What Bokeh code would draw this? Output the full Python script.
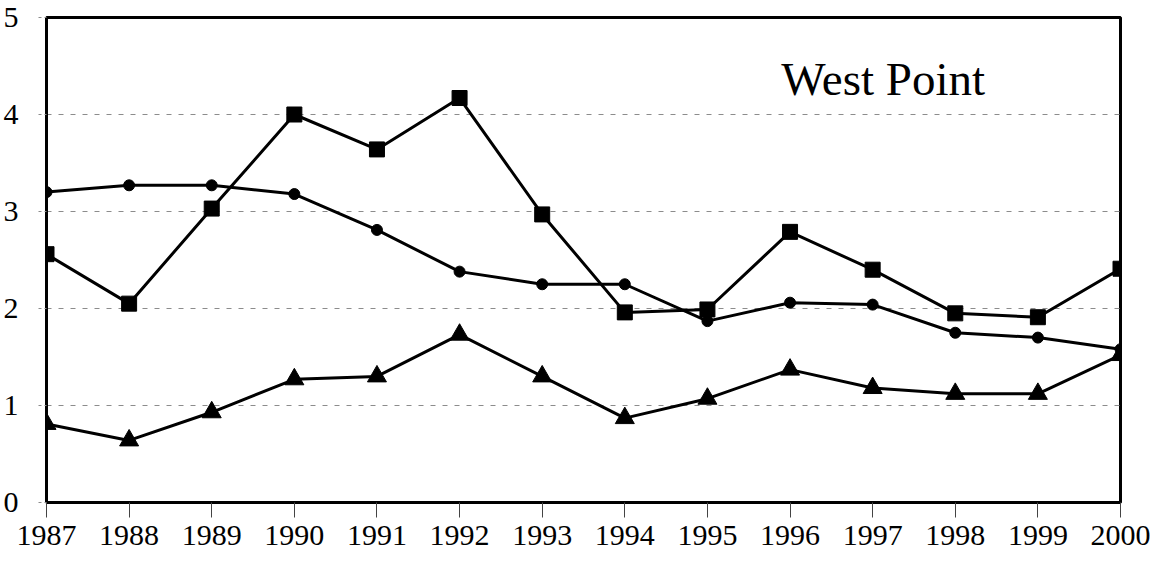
from bokeh.plotting import figure
from bokeh.models import Range1d, FixedTicker, Label
from bokeh.embed import file_html
from bokeh.resources import INLINE

years = [1987, 1988, 1989, 1990, 1991, 1992, 1993, 1994, 1995, 1996, 1997, 1998, 1999, 2000]
squares = [2.56, 2.05, 3.03, 4.00, 3.64, 4.17, 2.97, 1.96, 1.99, 2.79, 2.40, 1.95, 1.91, 2.41]
circles = [3.20, 3.27, 3.27, 3.18, 2.81, 2.38, 2.25, 2.25, 1.87, 2.06, 2.04, 1.75, 1.70, 1.58]
triangles = [0.81, 0.64, 0.93, 1.27, 1.30, 1.73, 1.30, 0.87, 1.07, 1.37, 1.18, 1.12, 1.12, 1.52]
y_ticks = [0, 1, 2, 3, 4, 5]
title_text = "West Point"

FONT = "Liberation Serif"

p = figure(width=1160, height=553, output_backend="svg", toolbar_location=None,
           x_range=Range1d(1987, 2000), y_range=Range1d(0, 5),
           min_border_left=44, min_border_right=40, min_border_top=17, min_border_bottom=51)

p.background_fill_color = "white"
p.border_fill_color = "white"
p.outline_line_color = "black"
p.outline_line_width = 3

p.xgrid.visible = False
p.ygrid.grid_line_color = "#8c8c8c"
p.ygrid.grid_line_dash = "5 7"
p.ygrid.grid_line_width = 1
p.ygrid.ticker = FixedTicker(ticks=y_ticks[1:-1])

p.xaxis.ticker = FixedTicker(ticks=years)
p.xaxis.axis_line_color = "black"
p.xaxis.axis_line_width = 3
p.xaxis.major_tick_line_color = "#444444"
p.xaxis.major_tick_line_width = 1
p.xaxis.major_tick_out = 15
p.xaxis.major_tick_in = 0
p.xaxis.minor_tick_line_color = None
p.xaxis.major_label_standoff = 8
p.xaxis.major_label_text_font = FONT
p.xaxis.major_label_text_font_size = "30px"
p.xaxis.major_label_text_color = "black"

p.yaxis.ticker = FixedTicker(ticks=y_ticks)
p.yaxis.axis_line_color = "black"
p.yaxis.axis_line_width = 3
p.yaxis.major_tick_line_color = "#8c8c8c"
p.yaxis.major_tick_line_dash = "3 3"
p.yaxis.major_tick_line_width = 1
p.yaxis.major_tick_out = 8
p.yaxis.major_tick_in = 0
p.yaxis.minor_tick_line_color = None
p.yaxis.major_label_standoff = 20
p.yaxis.major_label_text_font = FONT
p.yaxis.major_label_text_font_size = "30px"
p.yaxis.major_label_text_color = "black"

p.line(years, squares, line_color="black", line_width=3)
p.scatter(years, squares, marker="square", size=15, fill_color="black", line_color="black")

p.line(years, circles, line_color="black", line_width=3)
p.scatter(years, circles, marker="circle", size=11, fill_color="black", line_color="black")

p.line(years, triangles, line_color="black", line_width=3)
p.scatter(years, triangles, marker="triangle", size=19, fill_color="black", line_color="black")

p.add_layout(Label(x=1998.36, y=4.37, text=title_text,
                   text_font=FONT, text_font_size="47px", text_color="black",
                   text_align="right", text_baseline="alphabetic"))

open("out.html", "w").write(file_html(p, INLINE))
